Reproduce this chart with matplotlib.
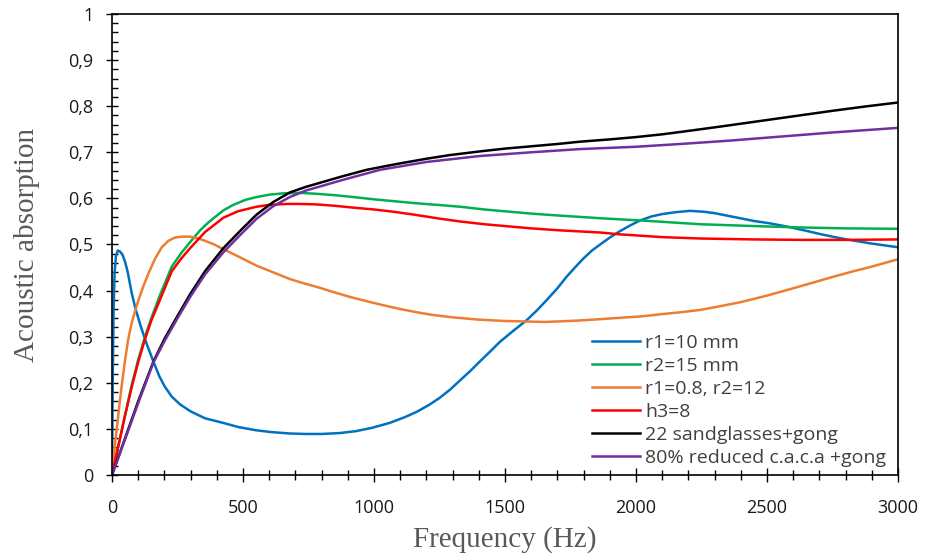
import numpy as np
import matplotlib
matplotlib.use('Agg')
import matplotlib.pyplot as plt
from matplotlib.ticker import MultipleLocator, FuncFormatter

# values (frequency in Hz, absorption 0..1)
f_r1 = [0, 3, 6, 10, 15, 22, 30, 40, 50, 60, 75, 90, 110, 130, 158, 180, 200, 228, 260, 300, 355,
        431, 482, 550, 609, 680, 737, 800, 870, 930, 990, 1060, 1120, 1163, 1210, 1250, 1290, 1328,
        1370, 1400, 1440, 1481, 1530, 1583, 1620, 1660, 1700, 1735, 1770, 1800, 1830, 1863, 1900,
        1939, 1980, 2015, 2060, 2100, 2150, 2206, 2260, 2300, 2371, 2450, 2510, 2575, 2640, 2700,
        2750, 2804, 2900, 3000]
a_r1 = [0, 0.22, 0.36, 0.44, 0.475, 0.487, 0.485, 0.478, 0.462, 0.44, 0.395, 0.36, 0.322, 0.288,
        0.246, 0.215, 0.193, 0.170, 0.153, 0.138, 0.123, 0.112, 0.104, 0.097, 0.093, 0.090, 0.089,
        0.089, 0.091, 0.095, 0.102, 0.113, 0.126, 0.137, 0.152, 0.167, 0.185, 0.205, 0.227, 0.244,
        0.266, 0.289, 0.312, 0.336, 0.356, 0.380, 0.405, 0.430, 0.452, 0.470, 0.486, 0.500, 0.515,
        0.529, 0.542, 0.552, 0.561, 0.566, 0.570, 0.573, 0.571, 0.568, 0.560, 0.551, 0.546, 0.539,
        0.531, 0.523, 0.517, 0.511, 0.502, 0.494]

f_r2 = [0, 25, 50, 75, 100, 126, 150, 183, 228, 265, 298, 335, 368, 425, 463, 510, 552, 600, 654,
        718, 780, 850, 920, 1000, 1075, 1150, 1240, 1328, 1420, 1500, 1600, 1700, 1863, 2050, 2244,
        2450, 2626, 2800, 3000]
a_r2 = [0, 0.065, 0.13, 0.195, 0.25, 0.30, 0.34, 0.39, 0.452, 0.482, 0.505, 0.530, 0.548, 0.574,
        0.586, 0.597, 0.603, 0.608, 0.611, 0.612, 0.610, 0.607, 0.603, 0.598, 0.594, 0.590, 0.586,
        0.582, 0.576, 0.572, 0.567, 0.563, 0.557, 0.551, 0.544, 0.540, 0.537, 0.535, 0.534]

f_r1r2 = [0, 12, 24, 36, 50, 62, 75, 88, 100, 120, 139, 165, 190, 215, 240, 266, 298, 330, 355,
          390, 425, 482, 552, 609, 679, 737, 800, 832, 910, 972, 1030, 1100, 1163, 1226, 1300, 1400,
          1500, 1583, 1650, 1700, 1780, 1863, 1939, 2020, 2100, 2170, 2244, 2320, 2400, 2499, 2600,
          2680, 2753, 2830, 2900, 3000]
a_r1r2 = [0, 0.07, 0.13, 0.19, 0.25, 0.295, 0.33, 0.355, 0.378, 0.41, 0.437, 0.47, 0.494, 0.508,
          0.515, 0.517, 0.517, 0.513, 0.508, 0.500, 0.490, 0.474, 0.454, 0.441, 0.425, 0.415, 0.405,
          0.399, 0.386, 0.377, 0.369, 0.360, 0.353, 0.347, 0.342, 0.337, 0.334, 0.333, 0.332, 0.333,
          0.335, 0.338, 0.341, 0.344, 0.349, 0.353, 0.358, 0.366, 0.375, 0.389, 0.405, 0.418, 0.430,
          0.442, 0.452, 0.468]

f_h3 = [0, 25, 50, 75, 100, 126, 150, 183, 228, 265, 298, 355, 425, 480, 552, 600, 667, 718, 780,
        850, 920, 1000, 1075, 1150, 1240, 1328, 1420, 1500, 1600, 1700, 1863, 1939, 2100, 2244, 2450,
        2626, 2800, 3000]
a_h3 = [0, 0.065, 0.13, 0.19, 0.245, 0.295, 0.335, 0.38, 0.442, 0.470, 0.492, 0.527, 0.558, 0.572,
        0.582, 0.586, 0.588, 0.588, 0.587, 0.584, 0.580, 0.576, 0.571, 0.565, 0.557, 0.550, 0.544,
        0.540, 0.535, 0.531, 0.526, 0.522, 0.516, 0.513, 0.511, 0.510, 0.510, 0.511]

f_sand = [0, 50, 100, 158, 200, 250, 298, 355, 425, 490, 552, 615, 679, 740, 807, 880, 972, 1035,
          1100, 1200, 1290, 1405, 1500, 1600, 1700, 1786, 1900, 2000, 2100, 2168, 2260, 2350, 2450,
          2550, 2650, 2750, 2870, 3000]
a_sand = [0, 0.08, 0.16, 0.246, 0.295, 0.345, 0.392, 0.442, 0.492, 0.530, 0.565, 0.592, 0.613,
          0.625, 0.636, 0.648, 0.662, 0.669, 0.676, 0.686, 0.694, 0.702, 0.708, 0.713, 0.718, 0.723,
          0.728, 0.733, 0.739, 0.744, 0.751, 0.758, 0.766, 0.774, 0.782, 0.790, 0.799, 0.808]

f_caca = [0, 50, 100, 158, 200, 250, 298, 355, 425, 490, 552, 615, 679, 740, 807, 880, 1023, 1200,
          1405, 1600, 1786, 2000, 2168, 2350, 2550, 2750, 3000]
a_caca = [0, 0.078, 0.156, 0.244, 0.29, 0.34, 0.386, 0.435, 0.483, 0.521, 0.556, 0.583, 0.603,
          0.617, 0.628, 0.640, 0.662, 0.679, 0.692, 0.700, 0.707, 0.712, 0.718, 0.725, 0.734, 0.743,
          0.753]

labels = ['r1=10 mm', 'r2=15 mm', 'r1=0.8, r2=12', 'h3=8',
          '22 sandglasses+gong', '80% reduced c.a.c.a +gong']
colors = ['#0070C0', '#00B050', '#ED7D31', '#FF0000', '#000000', '#7030A0']

fig = plt.figure(figsize=(9.35, 5.6), dpi=100)
ax = fig.add_axes([0.1198, 0.1518, 0.8406, 0.8232])

series = [(f_r1, a_r1), (f_r2, a_r2), (f_r1r2, a_r1r2), (f_h3, a_h3), (f_sand, a_sand), (f_caca, a_caca)]
for (f, a), lab, c in zip(series, labels, colors):
    ax.plot(f, a, color=c, lw=1.8, label=lab, solid_joinstyle='round')

ax.set_xlim(0, 3000)
ax.set_ylim(0, 1)
ax.xaxis.set_major_locator(MultipleLocator(500))
ax.xaxis.set_minor_locator(MultipleLocator(100))
ax.yaxis.set_major_locator(MultipleLocator(0.1))
ax.yaxis.set_minor_locator(MultipleLocator(0.02))
ax.yaxis.set_major_formatter(FuncFormatter(lambda v, p: f"{round(v, 1):g}".replace('.', ',')))

tick_font = 'Open Sans'
ax.tick_params(axis='x', which='major', direction='inout', length=10, width=1, pad=12,
               labelsize=13, labelcolor='#1a1a1a')
ax.tick_params(axis='x', which='minor', direction='inout', length=6.5, width=1)
ax.tick_params(axis='y', which='major', direction='inout', length=9, width=1, pad=9,
               labelsize=13, labelcolor='#1a1a1a')
ax.tick_params(axis='y', which='minor', direction='in', length=4.5, width=1)
for lbl in ax.get_xticklabels() + ax.get_yticklabels():
    lbl.set_family(tick_font)
for s in ax.spines.values():
    s.set_linewidth(1.2)

ax.set_xlabel('Frequency (Hz)', family='Liberation Serif', fontsize=21, color='#595959', labelpad=7)
ax.set_ylabel('Acoustic absorption', family='Liberation Serif', fontsize=21, color='#595959', labelpad=20)

leg = ax.legend(loc='lower right', bbox_to_anchor=(0.995, 0.0), frameon=False,
                prop={'family': tick_font, 'size': 14}, handlelength=2.5, handletextpad=0.25,
                labelspacing=0.26, borderaxespad=0.0)
for t in leg.get_texts():
    t.set_color('#404040')

fig.savefig('out.png', dpi=100)
